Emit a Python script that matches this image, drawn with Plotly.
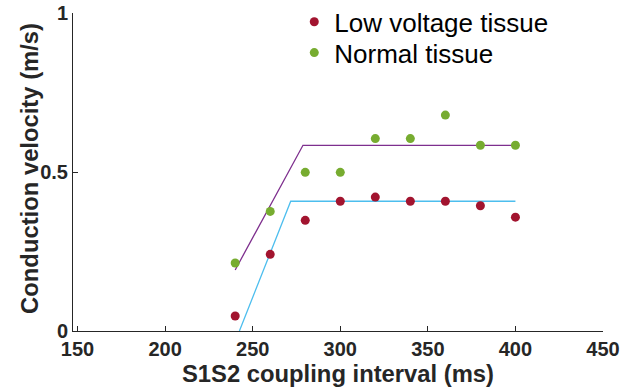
import plotly.graph_objects as go

# Data
intervals = [240, 260, 280, 300, 320, 340, 360, 380, 400]
low_voltage_cv = [0.047, 0.241, 0.348, 0.408, 0.421, 0.408, 0.408, 0.394, 0.358]
normal_cv = [0.214, 0.376, 0.499, 0.499, 0.605, 0.605, 0.679, 0.584, 0.584]

# Piecewise linear fits (restitution curves)
normal_fit_x = [240, 278.7, 400]
normal_fit_y = [0.192, 0.584, 0.584]
low_fit_x = [242.4, 271.7, 400]
low_fit_y = [0.0, 0.408, 0.408]

x_ticks = [150, 200, 250, 300, 350, 400, 450]
y_ticks = [0, 0.5, 1]
y_tick_labels = ["0", "0.5", "1"]

RED = "#A2142F"
GREEN = "#77AC30"
PURPLE = "#7E2F8E"
CYAN = "#4DBEEE"
AXIS = "#262626"
FONT = "Liberation Sans, Arial, sans-serif"

fig = go.Figure()
fig.add_trace(go.Scatter(x=normal_fit_x, y=normal_fit_y, mode="lines",
                         line=dict(color=PURPLE, width=1.3), showlegend=False,
                         hoverinfo="skip"))
fig.add_trace(go.Scatter(x=low_fit_x, y=low_fit_y, mode="lines",
                         line=dict(color=CYAN, width=1.3), showlegend=False,
                         hoverinfo="skip"))
fig.add_trace(go.Scatter(x=intervals, y=low_voltage_cv, mode="markers",
                         name="Low voltage tissue", legend="legend",
                         marker=dict(color=RED, size=9)))
fig.add_trace(go.Scatter(x=intervals, y=normal_cv, mode="markers",
                         name="Normal tissue", legend="legend2",
                         marker=dict(color=GREEN, size=9)))

legend_common = dict(xanchor="left", yanchor="top",
                     bgcolor="rgba(0,0,0,0)", borderwidth=0,
                     font=dict(family=FONT, size=26, color="#000000"))

fig.update_layout(
    width=620, height=391,
    margin=dict(l=73, r=17, t=12.5, b=60, autoexpand=False),
    paper_bgcolor="white", plot_bgcolor="white",
    font=dict(family=FONT, color=AXIS),
    legend=dict(x=0.4175, y=1.046, **legend_common),
    legend2=dict(x=0.4175, y=0.949, **legend_common),
    xaxis=dict(range=[147.4, 450], tickvals=x_ticks,
               ticks="inside", ticklen=5, tickcolor=AXIS, tickwidth=1,
               showline=True, linecolor=AXIS, linewidth=1,
               showgrid=False, zeroline=False, ticklabeloverflow="allow",
               tickfont=dict(family=FONT, size=20, color=AXIS, weight="bold"),
               title=dict(text="<b>S1S2 coupling interval (ms)</b>",
                          font=dict(family=FONT, size=23.8, color=AXIS),
                          standoff=2)),
    yaxis=dict(range=[0, 1], tickvals=y_ticks, ticktext=y_tick_labels,
               ticks="inside", ticklen=5, tickcolor=AXIS, tickwidth=1,
               showline=True, linecolor=AXIS, linewidth=1,
               showgrid=False, zeroline=False, ticklabeloverflow="allow",
               tickfont=dict(family=FONT, size=20, color=AXIS, weight="bold")),
    annotations=[dict(text="<b>Conduction velocity (m/s)</b>",
                      xref="paper", yref="paper", x=-0.081, y=0.51,
                      xanchor="center", yanchor="middle", textangle=-90,
                      showarrow=False,
                      font=dict(family=FONT, size=23.8, color=AXIS))],
)

# Remove the browser's default 8px body margin so the figure fills the window
fig.write_html("out.html", config={"displayModeBar": False},
               post_script="document.body.style.margin='0';")
